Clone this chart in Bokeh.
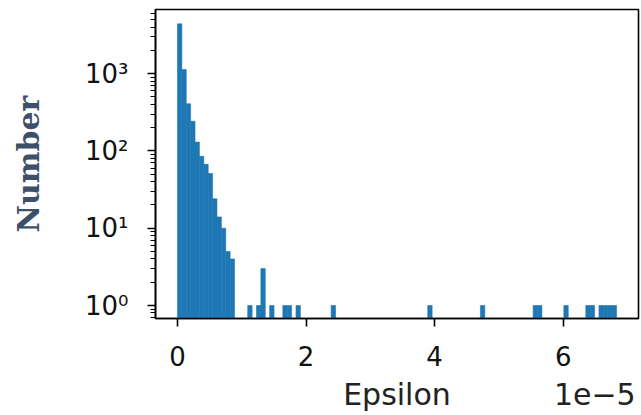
import numpy as np
from bokeh.plotting import figure
from bokeh.models import Range1d, FixedTicker, LinearAxis, ColumnDataSource
from bokeh.embed import file_html
from bokeh.resources import INLINE

# ---- data (epsilon in units of 1e-5) ----
eps_max = 6.83          # upper end of histogram range (x 1e-5)
n_bins = 100
counts = [
    4400, 1130, 407, 242, 130, 85, 67, 51, 24, 14,
    10, 5, 4, 0, 0, 0, 1, 0, 1, 3,
    0, 1, 0, 0, 1, 1, 0, 1, 0, 0,
    0, 0, 0, 0, 0, 1, 0, 0, 0, 0,
    0, 0, 0, 0, 0, 0, 0, 0, 0, 0,
    0, 0, 0, 0, 0, 0, 0, 1, 0, 0,
    0, 0, 0, 0, 0, 0, 0, 0, 0, 1,
    0, 0, 0, 0, 0, 0, 0, 0, 0, 0,
    0, 1, 1, 0, 0, 0, 0, 0, 1, 0,
    0, 0, 0, 1, 1, 0, 1, 1, 1, 1,
]
x_ticks = [0, 2, 4, 6]
y_ticks = [1, 10, 100, 1000]
y_tick_labels = ["10⁰", "10¹", "10²", "10³"]
x_label = "Epsilon"
offset_text = "1e−5"

edges = np.linspace(0, eps_max, n_bins + 1)
c = np.array(counts, dtype=float)
mask = c > 0
src = ColumnDataSource(dict(left=edges[:-1][mask], right=edges[1:][mask],
                            top=c[mask], bottom=np.full(mask.sum(), 0.1)))

x_lo, x_hi = -0.05 * eps_max, 1.05 * eps_max
p = figure(width=641, height=415, y_axis_type="log",
           x_range=Range1d(x_lo, x_hi),
           y_range=Range1d(0.679, 6750),
           output_backend="svg", toolbar_location=None,
           min_border_left=155, min_border_right=3,
           min_border_top=9, min_border_bottom=97)

p.quad(left="left", right="right", top="top", bottom="bottom", source=src,
       fill_color="#1f77b4", line_color="#1f77b4", line_width=0.6)

p.xgrid.visible = False
p.ygrid.visible = False
p.outline_line_color = "black"
p.outline_line_width = 1.6
p.outline_line_alpha = 1.0
p.background_fill_color = "white"
p.border_fill_color = "white"

minor = [m * 10 ** k for k in range(-1, 4) for m in range(2, 10)]
p.yaxis.ticker = FixedTicker(ticks=y_ticks, minor_ticks=minor)
p.yaxis.major_label_overrides = {t: l for t, l in zip(y_ticks, y_tick_labels)}
p.xaxis.ticker = FixedTicker(ticks=x_ticks, minor_ticks=[])

for ax in (p.xaxis[0], p.yaxis[0]):
    ax.axis_line_width = 1.6
    ax.axis_line_color = "black"
    ax.major_tick_line_width = 1.6
    ax.major_tick_line_color = "black"
    ax.minor_tick_line_width = 1.2
    ax.minor_tick_line_color = "black"
    ax.major_tick_out = 8
    ax.major_tick_in = 0
    ax.minor_tick_out = 5
    ax.minor_tick_in = 0
    ax.major_label_text_font = "DejaVu Sans"
    ax.major_label_text_font_size = "26px"
    ax.major_label_text_color = "#111111"

p.xaxis.minor_tick_out = 0
p.xaxis.major_label_standoff = 19
p.yaxis.major_label_standoff = 19

p.yaxis.axis_label = "Number"
p.yaxis.axis_label_text_font = "DejaVu Serif"
p.yaxis.axis_label_text_font_style = "bold"
p.yaxis.axis_label_text_font_size = "30px"
p.yaxis.axis_label_text_color = "#3d4f69"
p.yaxis.axis_label_standoff = 36

# second row under the x axis: axis title (centred) and the scale factor (right)
mid = round((x_lo + x_hi) / 2, 3)
off_x = round(x_hi - 0.68, 3)
ax2 = LinearAxis(ticker=FixedTicker(ticks=[mid, off_x], minor_ticks=[]),
                 major_label_overrides={mid: x_label, off_x: offset_text},
                 axis_line_color=None, major_tick_line_color=None,
                 minor_tick_line_color=None, major_tick_out=0, major_tick_in=0,
                 minor_tick_out=0, minor_tick_in=0,
                 major_label_standoff=8,
                 major_label_text_font="DejaVu Sans",
                 major_label_text_font_size="30px",
                 major_label_text_color="#222222")
p.add_layout(ax2, "below")

open("out.html", "w").write(file_html(p, INLINE))
